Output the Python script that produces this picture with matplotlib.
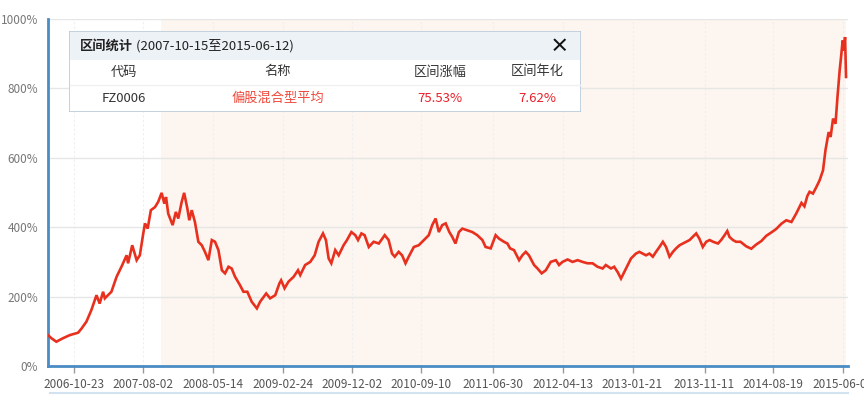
import numpy as np
import pandas as pd
import matplotlib
matplotlib.use("Agg")
import matplotlib.pyplot as plt
import matplotlib.dates as mdates
from matplotlib.patches import Rectangle
from matplotlib.lines import Line2D

plt.rcParams['font.family'] = ['Noto Sans CJK SC', 'DejaVu Sans']

# cumulative return of the fund index (%)
dates = [
    "2006-07-10", "2006-07-24", "2006-08-13", "2006-09-09", "2006-10-07", "2006-11-10",
    "2006-11-24", "2006-12-14", "2007-01-03", "2007-01-24", "2007-02-06", "2007-02-20",
    "2007-02-27", "2007-03-26", "2007-04-16", "2007-05-06", "2007-05-27", "2007-06-02",
    "2007-06-19", "2007-07-07", "2007-07-20", "2007-08-03", "2007-08-10", "2007-08-21",
    "2007-09-03", "2007-09-20", "2007-10-03", "2007-10-17", "2007-10-28", "2007-11-04",
    "2007-11-13", "2007-12-01", "2007-12-14", "2007-12-24", "2008-01-07", "2008-01-17",
    "2008-01-30", "2008-02-07", "2008-02-17", "2008-03-01", "2008-03-15", "2008-03-29",
    "2008-04-11", "2008-04-25", "2008-05-09", "2008-05-22", "2008-06-05", "2008-06-19",
    "2008-07-02", "2008-07-16", "2008-07-29", "2008-08-12", "2008-09-01", "2008-09-15",
    "2008-10-01", "2008-10-19", "2008-11-09", "2008-11-22", "2008-12-17", "2009-01-02",
    "2009-01-23", "2009-02-09", "2009-02-16", "2009-03-02", "2009-03-18", "2009-04-08",
    "2009-04-26", "2009-05-05", "2009-05-25", "2009-06-15", "2009-07-03", "2009-07-19",
    "2009-08-06", "2009-08-18", "2009-08-29", "2009-09-09", "2009-09-25", "2009-10-09",
    "2009-10-29", "2009-11-12", "2009-11-30", "2009-12-16", "2009-12-27", "2010-01-10",
    "2010-01-23", "2010-02-09", "2010-03-01", "2010-03-22", "2010-04-15", "2010-05-01",
    "2010-05-15", "2010-05-26", "2010-06-11", "2010-06-25", "2010-07-09", "2010-07-22",
    "2010-08-12", "2010-09-01", "2010-09-22", "2010-10-12", "2010-10-26", "2010-11-09",
    "2010-11-22", "2010-12-06", "2010-12-20", "2011-01-04", "2011-01-16", "2011-01-29",
    "2011-02-12", "2011-02-26", "2011-03-18", "2011-04-08", "2011-04-28", "2011-05-19",
    "2011-06-01", "2011-06-22", "2011-07-12", "2011-07-26", "2011-08-15", "2011-08-29",
    "2011-09-09", "2011-09-25", "2011-10-16", "2011-10-29", "2011-11-12", "2011-11-25",
    "2011-12-16", "2011-12-30", "2012-01-16", "2012-02-02", "2012-02-22", "2012-03-14",
    "2012-03-27", "2012-04-10", "2012-05-01", "2012-05-21", "2012-06-11", "2012-07-01",
    "2012-07-21", "2012-08-11", "2012-08-31", "2012-09-21", "2012-10-04", "2012-10-25",
    "2012-11-07", "2012-11-21", "2012-12-05", "2012-12-22", "2013-01-15", "2013-02-04",
    "2013-02-18", "2013-03-04", "2013-03-17", "2013-03-31", "2013-04-14", "2013-04-27",
    "2013-05-11", "2013-05-25", "2013-06-07", "2013-06-21", "2013-07-05", "2013-07-18",
    "2013-08-01", "2013-08-15", "2013-08-28", "2013-09-11", "2013-09-24", "2013-10-08",
    "2013-10-21", "2013-11-04", "2013-11-18", "2013-12-02", "2013-12-16", "2014-01-05",
    "2014-01-18", "2014-02-01", "2014-02-12", "2014-02-21", "2014-03-07", "2014-03-20",
    "2014-04-07", "2014-04-30", "2014-05-21", "2014-06-10", "2014-07-01", "2014-07-21",
    "2014-08-11", "2014-08-31", "2014-09-21", "2014-10-11", "2014-11-01", "2014-11-21",
    "2014-12-12", "2014-12-24", "2015-01-05", "2015-01-14", "2015-01-28", "2015-02-11",
    "2015-02-24", "2015-03-10", "2015-03-20", "2015-04-02", "2015-04-10", "2015-04-20",
    "2015-04-30", "2015-05-08", "2015-05-17", "2015-05-24", "2015-05-29", "2015-06-03",
    "2015-06-08", "2015-06-12",
]
values = [
    89, 80, 70, 80, 89, 96,
    108, 128, 161, 204, 180, 214,
    195, 214, 257, 286, 319, 296,
    348, 305, 319, 382, 411, 396,
    449, 458, 473, 499, 468, 487,
    439, 406, 444, 425, 473, 499,
    454, 420, 449, 415, 358, 348,
    329, 305, 363, 358, 334, 276,
    267, 286, 281, 257, 233, 214,
    214, 185, 166, 185, 209, 195,
    204, 238, 247, 224, 243, 257,
    276, 262, 291, 300, 319, 358,
    382, 363, 310, 296, 334, 319,
    348, 363, 386, 377, 363, 382,
    377, 343, 358, 353, 377, 363,
    324, 315, 329, 319, 296, 315,
    343, 348, 363, 377, 406, 425,
    386, 406, 411, 386, 372, 353,
    386, 396, 391, 386, 377, 363,
    343, 339, 377, 367, 358, 353,
    339, 334, 305, 319, 329, 319,
    291, 281, 267, 276, 300, 305,
    291, 300, 307, 300, 305, 300,
    296, 296, 286, 281, 291, 281,
    286, 271, 252, 276, 310, 324,
    329, 324, 319, 324, 315, 329,
    343, 358, 343, 315, 329, 339,
    348, 353, 358, 363, 372, 382,
    367, 343, 358, 363, 358, 353,
    363, 377, 389, 372, 363, 358,
    358, 345, 338, 350, 360, 375,
    385, 395, 410, 420, 415, 440,
    470, 460, 490, 502, 497, 516,
    535, 564, 622, 674, 660, 713,
    698, 775, 852, 900, 938, 909,
    948, 833,
]

tick_dates = ["2006-10-23", "2007-08-02", "2008-05-14", "2009-02-24", "2009-12-02",
              "2010-09-10", "2011-06-30", "2012-04-13", "2013-01-21", "2013-11-11",
              "2014-08-19", "2015-06-01"]
y_ticks = [0, 200, 400, 600, 800, 1000]

range_start = "2007-10-15"
range_end = "2015-06-12"

table_title = "区间统计"
table_period = " (2007-10-15至2015-06-12)"
table_headers = ["代码", "名称", "区间涨幅", "区间年化"]
table_row = ["FZ0006", "偏股混合型平均", "75.53%", "7.62%"]

x = pd.to_datetime(dates)
ticks = pd.to_datetime(tick_dates)

fig = plt.figure(figsize=(8.64, 3.95), dpi=100)
ax = fig.add_axes([48/864, 1 - 366/395, 800/864, 347/395])

ax.axvspan(pd.Timestamp(range_start), pd.Timestamp(range_end), color="#fdf5ef", zorder=0, lw=0)
ax.plot(x, values, color="#e8301f", lw=1.9, zorder=3, solid_joinstyle="miter")

ax.set_xlim(pd.Timestamp("2006-07-10"), pd.Timestamp("2015-06-20"))
ax.set_ylim(0, 1000)
ax.set_yticks(y_ticks)
ax.set_yticklabels([f"{v}%" for v in y_ticks])
ax.set_xticks(ticks)
ax.set_xticklabels(tick_dates)

ax.grid(axis="y", color="#e6e6e6", lw=1, zorder=1)
ax.grid(axis="x", color="#efefef", lw=0.8, ls=(0, (2, 2)), zorder=1)
ax.set_axisbelow(True)

for s in ["top", "right"]:
    ax.spines[s].set_visible(False)
for s in ["left", "bottom"]:
    ax.spines[s].set_color("#4a8cc4")
    ax.spines[s].set_linewidth(2)

ax.tick_params(axis="y", length=0, pad=7, labelsize=8.5, labelcolor="#777777")
ax.tick_params(axis="x", length=5, width=1, color="#999999", pad=4,
               labelsize=8.5, labelcolor="#555555")

# thin slider line at the bottom
fig.add_artist(Line2D([50/864, 848/864], [1 - 393/395, 1 - 393/395],
                      transform=fig.transFigure, color="#d3e2f1", lw=1.5))

# statistics box
bx = fig.add_axes([69/864, 1 - 112/395, 512/864, 81/395])
bx.set_xlim(0, 512)
bx.set_ylim(81, 0)
bx.axis("off")
bx.add_patch(Rectangle((0, 0), 512, 81, facecolor="white", edgecolor="#b9c9d9", lw=1.2))
bx.add_patch(Rectangle((0.6, 0.6), 510.8, 28, facecolor="#edf2f7", edgecolor="none"))
bx.plot([1, 511], [54, 54], color="#f0f0f0", lw=1)
t = bx.text(11, 15, table_title, fontsize=9.5, fontweight="bold", va="center", color="#222222")
bx.annotate(table_period, xycoords=t, xy=(1, 0.5), va="center", fontsize=9.5, color="#222222")
bx.text(490, 15, "×", fontsize=14, fontweight="bold", ha="center", va="center", color="#111111")

col_x = [55, 209, 371, 468]
for cx, h in zip(col_x, table_headers):
    bx.text(cx, 41, h, fontsize=9.5, ha="center", va="center", color="#333333")
row_colors = ["#333333", "#ee4a3c", "#e8202a", "#e8202a"]
for cx, v, c in zip(col_x, table_row, row_colors):
    bx.text(cx, 67, v, fontsize=9.5, ha="center", va="center", color=c)

fig.savefig("out.png", dpi=100)
